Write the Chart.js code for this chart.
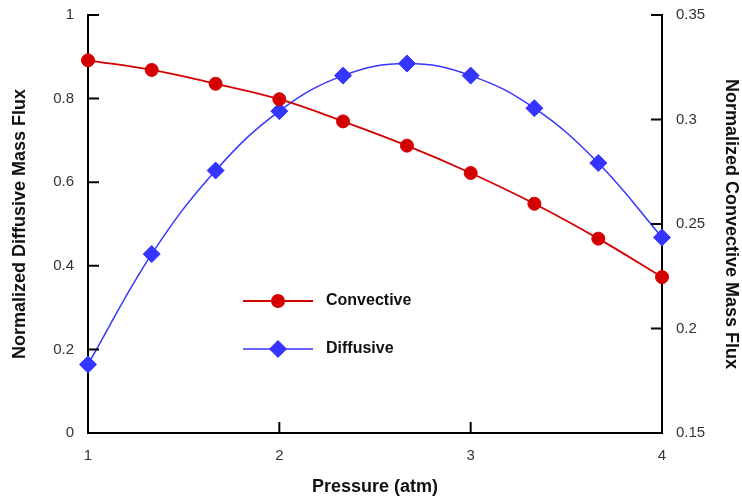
<!DOCTYPE html>
<html>
<head>
<meta charset="utf-8">
<script src="https://cdn.jsdelivr.net/npm/chart.js@4.4.1/dist/chart.umd.min.js"></script>
<style>
  html, body { margin: 0; padding: 0; background: #fff; }
  #wrap { width: 742px; height: 498px; }
</style>
</head>
<body>
<div id="wrap"><canvas id="fluxChart" width="742" height="498"></canvas></div>
<script>
// pressure (atm) for each measured point
const pressure = [1, 1.333, 1.667, 2, 2.333, 2.667, 3, 3.333, 3.667, 4];
// normalized convective mass flux (right axis)
const convective = [0.3283, 0.3237, 0.3171, 0.3097, 0.2991, 0.2875, 0.2744, 0.2597, 0.2430, 0.2246];
// normalized diffusive mass flux (left axis)
const diffusive = [0.164, 0.428, 0.628, 0.770, 0.855, 0.884, 0.855, 0.777, 0.646, 0.468];

const xRange = [1, 4];
const leftRange = [0, 1];
const rightRange = [0.15, 0.35];

const RED = '#d40000';
const BLUE = '#3535ff';
const FONT = '"Liberation Sans", Arial, sans-serif';

function toPoints(xs, ys) {
    return xs.map((x, i) => ({x: x, y: ys[i]}));
}

function fmt(v) {
    return String(+v.toFixed(2));
}

// fixed box sizes so the plot area lands where the original has it
function fixBox(size) {
    return function(s) {
        if (s.isHorizontal()) s.height = size; else s.width = size;
        s.paddingTop = 0;
        s.paddingBottom = 0;
        s.paddingLeft = 0;
        s.paddingRight = 0;
    };
}

// tick marks pointing into the plot
const inwardTicks = {
    id: 'inwardTicks',
    afterDatasetsDraw(chart) {
        const ctx = chart.ctx;
        const area = chart.chartArea;
        const len = 11;
        ctx.save();
        ctx.strokeStyle = '#000';
        ctx.lineWidth = 2;
        ctx.beginPath();
        chart.scales.x.ticks.forEach(t => {
            const px = chart.scales.x.getPixelForValue(t.value);
            ctx.moveTo(px, area.bottom);
            ctx.lineTo(px, area.bottom - len);
        });
        chart.scales.yL.ticks.forEach(t => {
            const py = chart.scales.yL.getPixelForValue(t.value);
            ctx.moveTo(area.left, py);
            ctx.lineTo(area.left + len, py);
        });
        chart.scales.yR.ticks.forEach(t => {
            const py = chart.scales.yR.getPixelForValue(t.value);
            ctx.moveTo(area.right, py);
            ctx.lineTo(area.right - len, py);
        });
        ctx.stroke();
        ctx.restore();
    }
};

// legend sitting inside the plot area
const innerLegend = {
    id: 'innerLegend',
    afterDraw(chart) {
        const ctx = chart.ctx;
        const area = chart.chartArea;
        const x0 = area.left + 155;
        const x1 = area.left + 225;
        const mid = (x0 + x1) / 2;
        const rows = [
            {ds: chart.data.datasets[0], y: area.top + 286},
            {ds: chart.data.datasets[1], y: area.top + 334}
        ];
        ctx.save();
        rows.forEach(r => {
            ctx.strokeStyle = r.ds.borderColor;
            ctx.lineWidth = r.ds.borderWidth;
            ctx.beginPath();
            ctx.moveTo(x0, r.y);
            ctx.lineTo(x1, r.y);
            ctx.stroke();
            ctx.fillStyle = r.ds.pointBackgroundColor;
            ctx.beginPath();
            if (r.ds.pointStyle === 'circle') {
                ctx.arc(mid, r.y, r.ds.pointRadius + 0.5, 0, Math.PI * 2);
            } else {
                const s = r.ds.pointRadius + 0.5;
                ctx.moveTo(mid, r.y - s);
                ctx.lineTo(mid + s, r.y);
                ctx.lineTo(mid, r.y + s);
                ctx.lineTo(mid - s, r.y);
                ctx.closePath();
            }
            ctx.fill();
            ctx.fillStyle = '#111';
            ctx.font = 'bold 16px ' + FONT;
            ctx.textBaseline = 'middle';
            ctx.textAlign = 'left';
            ctx.fillText(r.ds.label, x1 + 13, r.y);
        });
        ctx.restore();
    }
};

const ctx = document.getElementById('fluxChart').getContext('2d');

new Chart(ctx, {
    type: 'line',
    data: {
        datasets: [{
            label: 'Convective',
            data: toPoints(pressure, convective),
            yAxisID: 'yR',
            borderColor: RED,
            backgroundColor: RED,
            pointBackgroundColor: RED,
            pointBorderColor: RED,
            borderWidth: 1.8,
            pointStyle: 'circle',
            pointRadius: 6.5,
            pointBorderWidth: 1,
            tension: 0.4,
            clip: false
        }, {
            label: 'Diffusive',
            data: toPoints(pressure, diffusive),
            yAxisID: 'yL',
            borderColor: BLUE,
            backgroundColor: BLUE,
            pointBackgroundColor: BLUE,
            pointBorderColor: BLUE,
            borderWidth: 1.5,
            pointStyle: 'rectRot',
            pointRadius: 8.5,
            pointBorderWidth: 1,
            tension: 0.4,
            clip: false
        }]
    },
    options: {
        responsive: false,
        animation: false,
        layout: { padding: { top: 15, left: 0, right: 0, bottom: 0 } },
        plugins: {
            legend: { display: false },
            tooltip: { enabled: false }
        },
        scales: {
            x: {
                type: 'linear',
                min: xRange[0],
                max: xRange[1],
                ticks: { stepSize: 1, padding: 14, color: '#333', font: { family: FONT, size: 15 }, callback: fmt },
                grid: { display: false, drawTicks: false },
                border: { display: true, color: '#000', width: 2 },
                title: { display: true, text: 'Pressure (atm)', color: '#111', font: { family: FONT, size: 18, weight: 'bold' }, padding: { top: 6, bottom: 0 } },
                afterFit: fixBox(65)
            },
            yL: {
                type: 'linear',
                position: 'left',
                min: leftRange[0],
                max: leftRange[1],
                ticks: { stepSize: 0.2, padding: 14, color: '#333', font: { family: FONT, size: 15 }, callback: fmt },
                grid: { display: false, drawTicks: false },
                border: { display: true, color: '#000', width: 2 },
                title: { display: true, text: 'Normalized Diffusive Mass Flux', color: '#111', font: { family: FONT, size: 18, weight: 'bold' }, padding: { top: 9, bottom: 0 } },
                afterFit: fixBox(88)
            },
            yR: {
                type: 'linear',
                position: 'right',
                min: rightRange[0],
                max: rightRange[1],
                ticks: { stepSize: 0.05, padding: 14, color: '#333', font: { family: FONT, size: 15 }, callback: fmt },
                grid: { display: false, drawTicks: false },
                border: { display: true, color: '#000', width: 2 },
                title: { display: true, text: 'Normalized Convective Mass Flux', color: '#111', font: { family: FONT, size: 18, weight: 'bold' }, padding: { top: 0, bottom: 0 } },
                afterFit: fixBox(80)
            }
        }
    },
    plugins: [inwardTicks, innerLegend]
});
</script>
</body>
</html>
